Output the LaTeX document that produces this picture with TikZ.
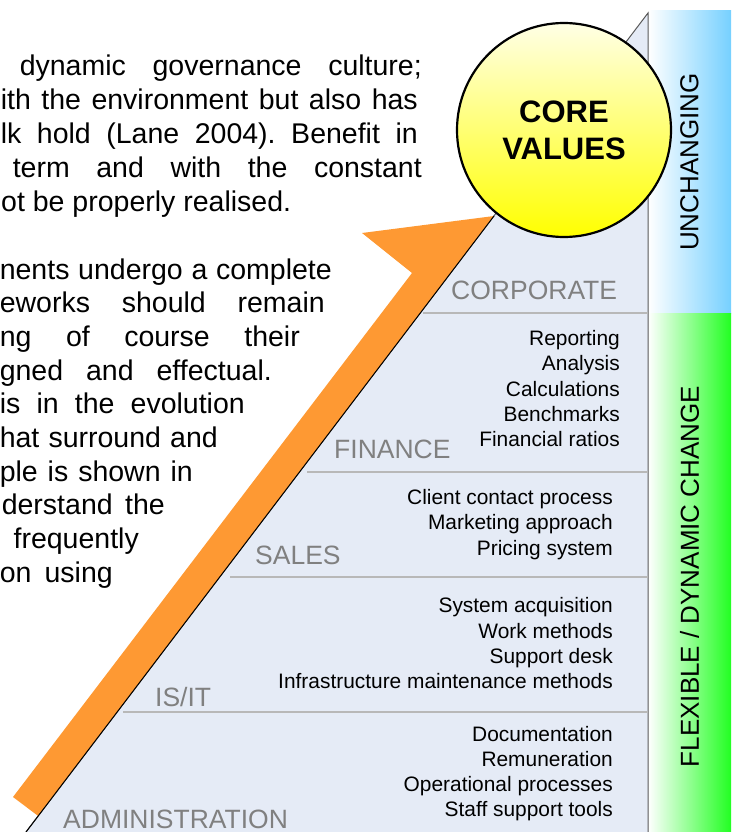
\documentclass[tikz,border=0pt]{standalone}
\usepackage{fontspec}
\setmainfont{Liberation Sans}
\frenchspacing

\definecolor{pyramid}{RGB}{229,235,246}
\definecolor{arroworange}{RGB}{254,153,51}
\definecolor{steadyblue}{RGB}{118,208,255}
\definecolor{flexgreen}{RGB}{34,255,34}
\definecolor{tiergray}{RGB}{128,128,128}

\tikzset{
    body/.style={anchor=base east, inner sep=0pt, font=\fontsize{28.5}{34}\selectfont},
    tier/.style={anchor=base west, inner sep=0pt, text=tiergray, font=\fontsize{26.5}{32}\selectfont},
    item/.style={anchor=base east, inner sep=0pt, font=\fontsize{20.9}{25}\selectfont},
    band/.style={rotate=90, inner sep=0pt, font=\fontsize{26}{31}\selectfont},
    divider/.style={draw=black!28, line width=1.5pt},
    core/.style={circle, draw, line width=2.2pt, minimum size=214pt, top color=yellow!10,
        bottom color=yellow, align=center, font=\fontsize{31}{37}\selectfont\bfseries}
}

\begin{document}
\begin{tikzpicture}[x=1pt, y=-1pt]
    \useasboundingbox (0,0) rectangle (731,832);

    % side bands
    \shade[left color=white, right color=steadyblue] (648,11) rectangle (731,313);
    \shade[left color=white, right color=flexgreen] (648,313) rectangle (731,832);

    % the pyramid
    \coordinate (apex) at (648,13);
    \coordinate (corner) at (648,832);
    \coordinate (foot) at (26,832);
    \fill[pyramid] (apex) -- (corner) -- (foot) -- cycle;
    \draw[black!65, line width=1pt] (foot) -- (apex) -- (corner);

    \draw[divider] (423,313) -- (648,313);
    \draw[divider] (307,472) -- (648,472);
    \draw[divider] (230,577) -- (648,577);
    \draw[divider] (123,712) -- (648,712);

    \node[tier] (corporate) at (451,299) {CORPORATE};
    \node[tier] (finance) at (334,458) {FINANCE};
    \node[tier] (sales) at (255,564) {SALES};
    \node[tier] (isit) at (155,706) {IS/IT};
    \node[tier] (admin) at (63,828.5) {ADMINISTRATION};

    \foreach \t [count=\i from 0] in {Reporting, Analysis, Calculations, Benchmarks, Financial ratios}
        \node[item] (fin-\i) at (620,345.7+25.25*\i) {\t};
    \foreach \t [count=\i from 0] in {Client contact process, Marketing approach, Pricing system}
        \node[item] (sal-\i) at (613,504+25.5*\i) {\t};
    \foreach \t [count=\i from 0] in {System acquisition, Work methods, Support desk, Infrastructure maintenance methods}
        \node[item] (it-\i) at (613,612.7+25.3*\i) {\t};
    \foreach \t [count=\i from 0] in {Documentation, Remuneration, Operational processes, Staff support tools}
        \node[item] (adm-\i) at (613,741.7+25*\i) {\t};

    % rising arrow
    \coordinate (tip) at (494,216);
    \fill[arroworange] (38.2,816) -- (13,797) -- (412,273) -- (362,233) -- (tip) -- cycle;
    \draw[black, line width=1pt] (tip) -- (foot);

    \node[core] (core) at (564,130) {CORE\\VALUES};

    \node[band] (unchanging) at (689.5,162) {UNCHANGING};
    \node[band] (flexible) at (689.5,576.5) {FLEXIBLE / DYNAMIC CHANGE};

    % running text beside the figure
    \node[body] (a1) at (422,75.5) {\makebox[402pt][s]{dynamic governance culture;}};
    \node[body] (a2) at (418,109.5) {\makebox[417pt][s]{ith the environment but also has}};
    \node[body] (a3) at (418,143) {\makebox[417pt][s]{lk hold (Lane 2004). Benefit in}};
    \node[body] (a4) at (422,177) {\makebox[409pt][s]{term and with the constant}};
    \node[body, anchor=base west] (a5) at (1,211) {ot be properly realised.};

    \node[body] (b1) at (332,279) {\makebox[332pt][s]{nents undergo a complete}};
    \node[body] (b2) at (325,312.7) {\makebox[325pt][s]{eworks should remain}};
    \node[body] (b3) at (300,346.4) {\makebox[300pt][s]{ng of course their}};
    \node[body] (b4) at (272,380.1) {\makebox[272pt][s]{gned and effectual.}};
    \node[body] (b5) at (245,413.8) {\makebox[245pt][s]{is in the evolution}};
    \node[body] (b6) at (218,447.5) {\makebox[218pt][s]{hat surround and}};
    \node[body] (b7) at (193,481.2) {\makebox[193pt][s]{ple is shown in}};
    \node[body] (b8) at (165,514.9) {\makebox[163pt][s]{derstand the}};
    \node[body] (b9) at (139,548.6) {frequently};
    \node[body] (b10) at (113,582.3) {\makebox[113pt][s]{on using}};
\end{tikzpicture}
\end{document}
